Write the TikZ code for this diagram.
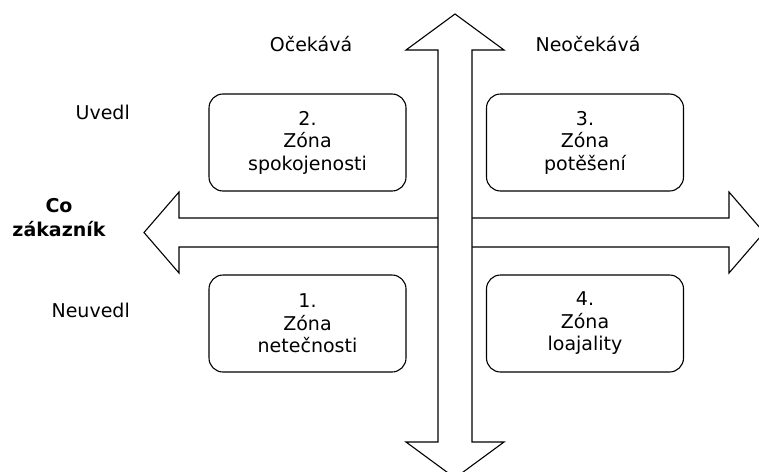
\documentclass[tikz,border=0pt]{standalone}
\usepackage{fontspec}
\setmainfont{DejaVu Sans}
\begin{document}
\begin{tikzpicture}[x=1pt,y=-1pt,
  outline/.style={draw=black,line width=1.1pt,line join=miter,fill=white},
  zone/.style={draw=black,line width=1.1pt,rounded corners=14pt,
    minimum width=197pt,minimum height=97pt,align=center,inner sep=0pt,
    font=\fontsize{19}{22.5}\selectfont},
  lbl/.style={inner sep=0pt,font=\fontsize{19}{22}\selectfont}]
\useasboundingbox (0,0) rectangle (759,471);

% horizontal double arrow
\draw[outline] (144,232.5) -- (179,192) -- (179,218) -- (729,218) -- (729,192)
  -- (764,232.5) -- (729,273) -- (729,247) -- (179,247) -- (179,273) -- cycle;
% vertical double arrow, drawn over the horizontal one
\draw[outline] (455,14) -- (504,50) -- (472,50) -- (472,442) -- (504,442)
  -- (455,478) -- (406,442) -- (438,442) -- (438,50) -- (406,50) -- cycle;

% zones
\node[zone] (z2) at (307.5,142.5) {2.\\Zóna\\spokojenosti};
\node[zone] (z3) at (585,142.5) {3.\\Zóna\\potěšení};
\node[zone] (z1) at (307.5,323.5) {1.\\Zóna\\netečnosti};
\node[zone] (z4) at (585,323.5) {4.\\Zóna\\loajality};

% axis labels
\node[lbl,anchor=base] (oc) at (311,51) {Očekává};
\node[lbl,anchor=base] (neoc) at (588,51) {Neočekává};
\node[lbl,anchor=base east] (uv) at (130,119) {Uvedl};
\node[lbl,anchor=base east] (neuv) at (130,317) {Neuvedl};
\node[lbl,align=center,font=\fontsize{19}{24}\bfseries\selectfont] (co) at (59,218) {Co\\zákazník};
\end{tikzpicture}
\end{document}
